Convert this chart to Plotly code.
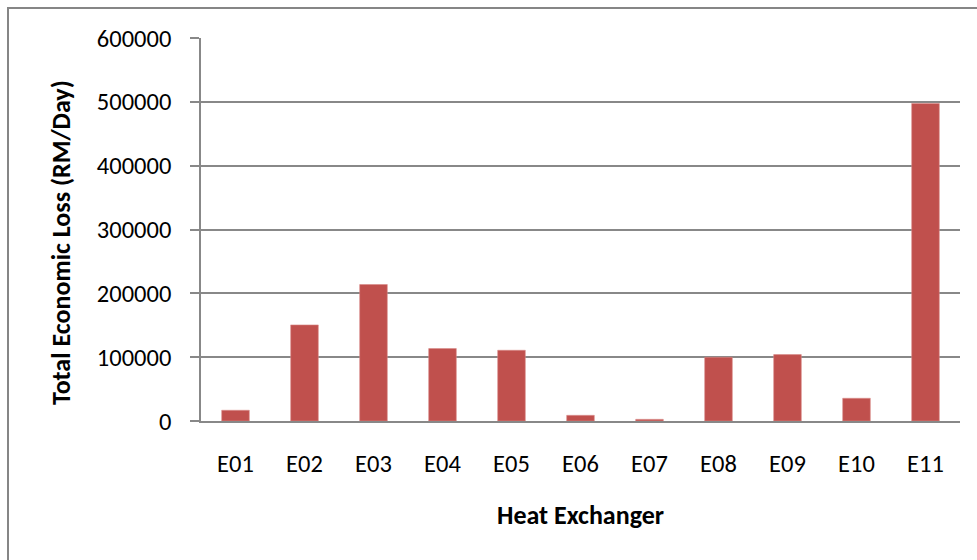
import plotly.graph_objects as go

# Heat exchanger economic loss data
exchangers = ["E01", "E02", "E03", "E04", "E05", "E06", "E07", "E08", "E09", "E10", "E11"]
loss_rm_per_day = [16800, 150500, 213800, 113500, 110800, 8900, 2600, 99800, 104000, 35600, 497500]
y_ticks = [0, 100000, 200000, 300000, 400000, 500000, 600000]

W, H = 977, 560
L, R, T, B = 201, 17, 38, 139
plot_w = W - L - R
plot_h = H - T - B

FONT = "Calibri, Carlito, Lato, sans-serif"
GRID = "#888888"
TICK_SIZE = 24.5
TITLE_SIZE = 26


def px_x(p):
    return (p - L) / plot_w


def px_y(p):
    return (H - B - p) / plot_h


fig = go.Figure(
    go.Bar(
        x=exchangers,
        y=loss_rm_per_day,
        marker=dict(color="#C0504D", line=dict(color="#D98A88", width=0.6)),
    )
)

fig.update_layout(
    width=W,
    height=H,
    margin=dict(l=L, r=R, t=T, b=B),
    paper_bgcolor="white",
    plot_bgcolor="white",
    bargap=0.6,
    showlegend=False,
    font=dict(family=FONT, size=TICK_SIZE, color="#000000"),
)

fig.update_xaxes(
    showgrid=False,
    showline=True,
    linecolor=GRID,
    linewidth=1.5,
    ticks="",
    ticklabelstandoff=20,
    tickfont=dict(family=FONT, size=TICK_SIZE),
)

fig.update_yaxes(
    range=[0, 600000],
    tickvals=y_ticks,
    ticktext=[str(v) for v in y_ticks],
    showgrid=True,
    gridcolor=GRID,
    gridwidth=1.5,
    showline=True,
    linecolor=GRID,
    linewidth=1.5,
    ticks="outside",
    ticklen=9,
    tickwidth=1.5,
    tickcolor=GRID,
    ticklabelstandoff=14,
    zeroline=False,
    tickfont=dict(family=FONT, size=TICK_SIZE),
)

# Axis titles
fig.add_annotation(
    text="<b>Heat Exchanger</b>",
    xref="paper", yref="paper",
    x=0.5, y=px_y(515),
    xanchor="center", yanchor="middle",
    showarrow=False,
    font=dict(family=FONT, size=TITLE_SIZE),
)
fig.add_annotation(
    text="<b>Total Economic Loss (RM/Day)</b>",
    xref="paper", yref="paper",
    x=px_x(61), y=px_y(243),
    xanchor="center", yanchor="middle",
    textangle=-90,
    showarrow=False,
    font=dict(family=FONT, size=TITLE_SIZE),
)

# Chart area border
fig.add_shape(
    type="rect",
    xref="paper", yref="paper",
    x0=px_x(8), x1=px_x(W + 20),
    y0=px_y(H + 20), y1=px_y(8),
    line=dict(color="#868686", width=2),
    fillcolor="rgba(0,0,0,0)",
    layer="below",
)

fig.write_html("out.html")
